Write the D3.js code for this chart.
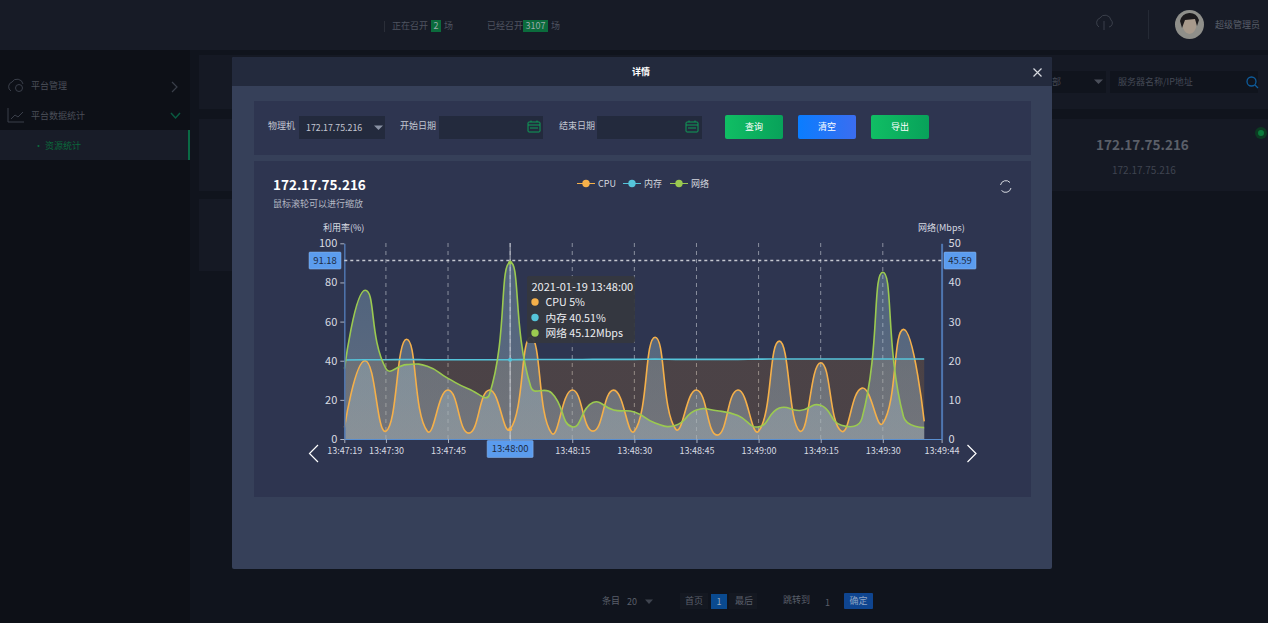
<!DOCTYPE html>
<html>
<head>
<meta charset="utf-8">
<title>详情</title>
<script src="https://cdn.jsdelivr.net/npm/d3@7/dist/d3.min.js"></script>
<style>
    * { box-sizing: border-box; }
    html, body { margin: 0; width: 1268px; height: 623px; overflow: hidden; background: #10141d; font-family: "Noto Sans CJK SC", "Noto Sans", sans-serif; }
    .box { position: absolute; }
    .t { position: absolute; white-space: nowrap; font-size: 9px; line-height: 12px; }
    #chart { position: absolute; left: 0; top: 0; }
    #chart text { font-family: "Noto Sans CJK SC", "Noto Sans", sans-serif; }
    .btn { position: absolute; top: 115px; width: 58px; height: 24px; border-radius: 2px; color: #fff; font-size: 9px; line-height: 24px; text-align: center; }
    .green { background: linear-gradient(90deg, #10be64, #08a25a); }
    .blue { background: linear-gradient(90deg, #0a7dff, #3b6df0); }
    .inp { position: absolute; top: 116px; height: 23px; background: #232a3d; }
</style>
</head>
<body>
<!-- dimmed page behind the dialog -->
<div class="box" style="left:0;top:0;width:1268px;height:50px;background:#171b26"></div>
<div class="box" style="left:0;top:50px;width:190px;height:573px;background:#0d1017"></div>
<div class="box" style="left:0;top:130px;width:190px;height:30px;background:#181c28"></div>
<div class="box" style="left:188px;top:130px;width:2px;height:30px;background:#0a6a45"></div>
<div class="box" style="left:199px;top:55px;width:1069px;height:54px;background:#151924"></div>
<div class="box" style="left:199px;top:119px;width:1069px;height:72px;background:#151924"></div>
<div class="box" style="left:199px;top:199px;width:260px;height:72px;background:#151924"></div>
<div class="box" style="left:1110px;top:71px;width:148px;height:22px;background:#10141d"></div>
<div class="box" style="left:1052px;top:71px;width:54px;height:22px;background:#10141d"></div>

<div class="t" style="left:392px;top:20px;color:#4f5460">正在召开</div>
<div class="box" style="left:431px;top:20px;width:10px;height:12px;background:#0b6b3c;color:#9aa;font-size:9px;line-height:12px;text-align:center">2</div>
<div class="t" style="left:444px;top:20px;color:#4f5460">场</div>
<div class="t" style="left:487px;top:20px;color:#4f5460">已经召开</div>
<div class="box" style="left:523px;top:20px;width:25px;height:12px;background:#0b6b3c;color:#9aa;font-size:9px;line-height:12px;text-align:center">3107</div>
<div class="t" style="left:551px;top:20px;color:#4f5460">场</div>
<div class="box" style="left:384px;top:21px;width:1px;height:11px;background:#2a2e38"></div>
<div class="box" style="left:1148px;top:10px;width:1px;height:29px;background:#252a35"></div>
<div class="t" style="left:1215px;top:19px;color:#5a5f6a">超级管理员</div>
<div class="t" style="left:31px;top:80px;color:#4a4e58">平台管理</div>
<div class="t" style="left:31px;top:110px;color:#4a4e58">平台数据统计</div>
<div class="t" style="left:34px;top:140px;color:#0a6a3c">• 资源统计</div>
<div class="t" style="left:1118px;top:76px;color:#444955">服务器名称/IP地址</div>
<div class="t" style="left:1052px;top:76px;color:#444955">部</div>
<div class="t" style="left:1096px;top:135px;color:#5b5f68;font-size:13.5px;line-height:18px;font-weight:700">172.17.75.216</div>
<div class="t" style="left:1112px;top:164px;color:#3f4450;font-size:10px">172.17.75.216</div>
<div class="t" style="left:602px;top:595px;color:#5a5f6a">条目</div>
<div class="t" style="left:627px;top:596px;color:#5a5f6a">20</div>
<div class="box" style="left:680px;top:593px;width:28px;height:16px;background:#141821"></div>
<div class="t" style="left:685px;top:595px;color:#5a5f6a">首页</div>
<div class="box" style="left:711px;top:594px;width:16px;height:15px;background:#0a4a8f;color:#9ab;font-size:9px;line-height:15px;text-align:center">1</div>
<div class="box" style="left:729px;top:593px;width:28px;height:16px;background:#141821"></div>
<div class="t" style="left:735px;top:595px;color:#5a5f6a">最后</div>
<div class="t" style="left:783px;top:594px;color:#5a5f6a">跳转到</div>
<div class="t" style="left:825px;top:597px;color:#5a5f6a">1</div>
<div class="box" style="left:844px;top:593px;width:29px;height:16px;background:#0f4590;color:#8ea4c4;font-size:9px;line-height:16px;text-align:center;border-radius:1px">确定</div>

<!-- dialog -->
<div class="box" style="left:232px;top:57px;width:820px;height:512px;background:#364059;border-radius:2px"></div>
<div class="box" style="left:232px;top:57px;width:820px;height:29px;background:#232a3d;border-radius:2px 2px 0 0"></div>
<div class="t" style="left:632px;top:66px;color:#fff;font-weight:700">详情</div>
<div class="box" style="left:254px;top:101px;width:777px;height:54px;background:#2e3550"></div>
<div class="box" style="left:254px;top:161px;width:777px;height:336px;background:#2e3550"></div>
<div class="t" style="left:268px;top:120px;color:#c3c7d2">物理机</div>
<div class="inp" style="left:299px;width:86px"></div>
<div class="t" style="left:306px;top:122px;color:#c3c7d2;font-size:8.8px">172.17.75.216</div>
<div class="t" style="left:400px;top:120px;color:#c3c7d2">开始日期</div>
<div class="inp" style="left:439px;width:104px"></div>
<div class="t" style="left:559px;top:120px;color:#c3c7d2">结束日期</div>
<div class="inp" style="left:597px;width:105px"></div>
<div class="btn green" style="left:725px">查询</div>
<div class="btn blue" style="left:798px">清空</div>
<div class="btn green" style="left:871px">导出</div>
<div class="t" style="left:273px;top:175px;color:#fff;font-size:13.5px;line-height:18px;font-weight:700">172.17.75.216</div>
<div class="t" style="left:273px;top:198px;color:#b5b9c4">鼠标滚轮可以进行缩放</div>

<svg id="chart" width="1268" height="623"></svg>

<script>
// times of the samples, one every 5 s
const sampleTimes = ["13:47:20", "13:47:25", "13:47:30", "13:47:35", "13:47:40", "13:47:45", "13:47:50", "13:47:55",
    "13:48:00", "13:48:05", "13:48:10", "13:48:15", "13:48:20", "13:48:25", "13:48:30", "13:48:35", "13:48:40",
    "13:48:45", "13:48:50", "13:48:55", "13:49:00", "13:49:05", "13:49:10", "13:49:15", "13:49:20", "13:49:25",
    "13:49:30", "13:49:35", "13:49:40"];
const cpuValues = [6, 40, 4, 51, 4, 25, 3, 25, 5, 52, 3, 25, 4, 25, 4, 52, 5, 25, 2, 25, 4, 50, 4, 39, 4, 26, 8, 56, 9];
const memValues = [40.4, 40.5, 40.5, 40.6, 40.5, 40.5, 40.5, 40.5, 40.51, 40.6, 40.6, 40.6, 40.7, 40.7, 40.7, 40.8, 40.7,
    40.7, 40.7, 40.7, 40.8, 40.9, 40.9, 40.9, 40.9, 40.9, 40.9, 40.9, 40.9];
const netValues = [18, 38, 18, 19, 18.6, 15.5, 12.8, 11.4, 45.12, 13.3, 11.8, 3.1, 9.3, 7.4, 6.9, 4.1, 3.5, 7.4, 7.2, 6,
    3.1, 7.9, 7.3, 8.6, 3.5, 5.4, 42.6, 5.7, 2.9];
const timeTicks = ["13:47:30", "13:47:45", "13:48:00", "13:48:15", "13:48:30", "13:48:45", "13:49:00", "13:49:15", "13:49:30"];
const leftTicks = [0, 20, 40, 60, 80, 100];
const rightTicks = [0, 10, 20, 30, 40, 50];
const legendNames = ["CPU", "内存", "网络"];
const tooltipRows = ["CPU 5%", "内存 40.51%", "网络 45.12Mbps"];
const hoverTime = "13:48:00";
const hoverLeft = 91.18;
const hoverRight = 45.59;

const colors = { cpu: "#f5b04a", mem: "#55c4da", net: "#9bca50" };
const parseT = s => new Date(`2021-01-19T${s}`);
const fmtTime = d3.timeFormat("%H:%M:%S");

const svg = d3.select("#chart");

// the first label reads 13:47:19 because the axis starts a hair before the first sample
const x = d3.scaleTime()
    .domain([new Date(parseT("13:47:20").getTime() - 50), new Date(parseT("13:49:44").getTime() + 200)])
    .range([344.3, 941.6]);
const yL = d3.scaleLinear().domain([0, 100]).range([439, 243.3]);
const yR = d3.scaleLinear().domain([0, 50]).range([439, 243.3]);

const defs = svg.append("defs");
function addGradient(id, top, bottom) {
    const g = defs.append("linearGradient").attr("id", id).attr("gradientUnits", "userSpaceOnUse")
        .attr("x1", 0).attr("x2", 0).attr("y1", 243).attr("y2", 439);
    g.append("stop").attr("offset", 0).attr("stop-color", top[0]).attr("stop-opacity", top[1]);
    g.append("stop").attr("offset", 1).attr("stop-color", bottom[0]).attr("stop-opacity", bottom[1]);
}
addGradient("gMem", ["#c07820", 0.2], ["#c07820", 0.2]);
addGradient("gCpu", ["#96c8e1", 0.3], ["#a8b8c0", 0.42]);
addGradient("gNet", ["#96c8e1", 0.3], ["#a8b8c0", 0.42]);

// same tangents as the original chart's smooth lines: handle length shared by segment length
function smoothCurve(context) {
    const s = 0.5;
    let pts = [];
    let inArea = false;
    let lineNo = 0;
    return {
        areaStart() { inArea = true; lineNo = 0; },
        areaEnd() { context.closePath(); inArea = false; },
        lineStart() { pts = []; },
        point(px, py) { pts.push([+px, +py]); },
        lineEnd() {
            const n = pts.length;
            const cp = pts.map((p, i) => {
                if (i === 0 || i === n - 1) return { v: [0, 0], next: 0.5 };
                const a = pts[i - 1], b = pts[i + 1];
                const l0 = Math.hypot(p[0] - a[0], p[1] - a[1]), l1 = Math.hypot(b[0] - p[0], b[1] - p[1]);
                return { v: [b[0] - a[0], b[1] - a[1]], next: l1 / (l0 + l1) };
            });
            if (inArea && lineNo > 0) context.lineTo(pts[0][0], pts[0][1]);
            else context.moveTo(pts[0][0], pts[0][1]);
            lineNo++;
            for (let i = 0; i < n - 1; i++) {
                const c0 = cp[i], c1 = cp[i + 1];
                context.bezierCurveTo(
                    pts[i][0] + c0.v[0] * s * c0.next, pts[i][1] + c0.v[1] * s * c0.next,
                    pts[i + 1][0] - c1.v[0] * s * (1 - c1.next), pts[i + 1][1] - c1.v[1] * s * (1 - c1.next),
                    pts[i + 1][0], pts[i + 1][1]);
            }
        }
    };
}

// vertical grid
svg.append("g").selectAll("line").data(timeTicks).join("line")
    .attr("x1", d => x(parseT(d))).attr("x2", d => x(parseT(d)))
    .attr("y1", 243).attr("y2", 439)
    .attr("stroke", "#c8ccd4").attr("stroke-opacity", 0.6).attr("stroke-dasharray", "4,4");

// areas and lines
function drawSeries(values, scale, fill, color) {
    const pts = sampleTimes.map((t, i) => [parseT(t), values[i]]);
    svg.append("path").datum(pts)
        .attr("fill", fill)
        .attr("d", d3.area().x(d => x(d[0])).y0(439).y1(d => scale(d[1])).curve(smoothCurve));
    return () => svg.append("path").datum(pts)
        .attr("fill", "none").attr("stroke", color).attr("stroke-width", 1.6)
        .attr("d", d3.line().x(d => x(d[0])).y(d => scale(d[1])).curve(smoothCurve));
}
const lineMem = drawSeries(memValues, yL, "url(#gMem)", colors.mem);
const lineCpu = drawSeries(cpuValues, yL, "url(#gCpu)", colors.cpu);
const lineNet = drawSeries(netValues, yR, "url(#gNet)", colors.net);
lineCpu();
lineMem();
lineNet();

// axes
function styleAxis(g, color) {
    g.selectAll(".domain").attr("stroke", color).attr("stroke-width", 1.5);
    g.selectAll(".tick line").attr("stroke", "#aab2c2");
    g.selectAll("text").attr("fill", "#d8dbe2").attr("font-size", 11);
}
const allTimeTicks = [x.domain()[0], ...timeTicks.map(parseT), x.domain()[1]];
const xAxis = svg.append("g").attr("transform", "translate(0,439)")
    .call(d3.axisBottom(x).tickValues(allTimeTicks).tickFormat(fmtTime).tickSize(4).tickPadding(5).tickSizeOuter(0));
styleAxis(xAxis, "#5a8fd0");
xAxis.selectAll("text").attr("font-size", 9);
xAxis.select(".domain").attr("stroke-width", 1);
// the pointer label below takes the place of this tick's text
xAxis.selectAll(".tick text").filter(d => fmtTime(d) === hoverTime).remove();

const leftAxis = svg.append("g").attr("transform", "translate(344.3,0)")
    .call(d3.axisLeft(yL).tickValues(leftTicks).tickSize(4).tickPadding(3).tickSizeOuter(0));
styleAxis(leftAxis, "#4f76b0");
const rightAxis = svg.append("g").attr("transform", "translate(941.6,0)")
    .call(d3.axisRight(yR).tickValues(rightTicks).tickSize(0).tickPadding(7).tickSizeOuter(0));
styleAxis(rightAxis, "#4f76b0");
rightAxis.select(".domain").attr("stroke-width", 2);

svg.append("text").attr("x", 323).attr("y", 231).attr("fill", "#d8dbe2").attr("font-size", 9).text("利用率(%)");
svg.append("text").attr("x", 918).attr("y", 231).attr("fill", "#d8dbe2").attr("font-size", 9).text("网络(Mbps)");

// axis pointer at the hovered sample
const hx = x(parseT(hoverTime));
svg.append("line").attr("x1", 344.3).attr("x2", 941.6).attr("y1", yL(hoverLeft)).attr("y2", yL(hoverLeft))
    .attr("stroke", "#dfe2e8").attr("stroke-opacity", 0.85).attr("stroke-dasharray", "3,3").attr("stroke-width", 1.5);
svg.append("line").attr("x1", hx).attr("x2", hx).attr("y1", 243).attr("y2", 439)
    .attr("stroke", "#dfe2e8").attr("stroke-opacity", 0.75).attr("stroke-width", 1);
[[cpuValues, colors.cpu, yL], [memValues, colors.mem, yL], [netValues, colors.net, yR]].forEach(([vals, c, s]) => {
    svg.append("circle").attr("cx", hx).attr("cy", s(vals[sampleTimes.indexOf(hoverTime)])).attr("r", 2).attr("fill", c);
});

function pointerLabel(cx, cy, w, h, text) {
    svg.append("rect").attr("x", cx - w / 2).attr("y", cy - h / 2).attr("width", w).attr("height", h).attr("rx", 1)
        .attr("fill", "#5b9cee").attr("stroke", "#8db8ee").attr("stroke-width", 0.5);
    svg.append("text").attr("x", cx).attr("y", cy + 3.3).attr("text-anchor", "middle")
        .attr("font-size", 9.5).attr("fill", "#1d2a3f").text(text);
}
pointerLabel(325, yL(hoverLeft), 32, 17, hoverLeft.toFixed(2));
pointerLabel(960, yL(hoverLeft), 32, 17, hoverRight.toFixed(2));
pointerLabel(hx, 449, 46, 17, hoverTime);

// legend
const legendX = [586, 632, 679];
[colors.cpu, colors.mem, colors.net].forEach((c, i) => {
    const g = svg.append("g").attr("transform", `translate(${legendX[i]},183.5)`);
    g.append("line").attr("x1", -9).attr("x2", 9).attr("stroke", c).attr("stroke-width", 1);
    g.append("circle").attr("r", 3.7).attr("fill", c);
    g.append("text").attr("x", 12).attr("y", 3).attr("font-size", 9).attr("fill", "#d4d7de").text(legendNames[i]);
});

// tooltip
svg.append("rect").attr("x", 527).attr("y", 276).attr("width", 108).attr("height", 67).attr("rx", 2)
    .attr("fill", "#35383f").attr("fill-opacity", 0.95);
svg.append("text").attr("x", 531.5).attr("y", 291).attr("font-size", 11).attr("fill", "#eceef2")
    .text(`2021-01-19 ${hoverTime}`);
[colors.cpu, colors.mem, colors.net].forEach((c, i) => {
    svg.append("circle").attr("cx", 535).attr("cy", 302 + i * 15.5).attr("r", 3.7).attr("fill", c);
    svg.append("text").attr("x", 545.5).attr("y", 306 + i * 15.5).attr("font-size", 10.7).attr("fill", "#eceef2").text(tooltipRows[i]);
});

// arrows, close, refresh and other small icons
const stroke = (d, c, w) => svg.append("path").attr("d", d).attr("fill", "none").attr("stroke", c).attr("stroke-width", w || 1);
stroke("M318,445 L309.5,453.5 L318,462", "#fff", 1.2);
stroke("M967.5,445 L976,453.5 L967.5,462", "#fff", 1.2);
stroke("M1033.5,68.5 L1041.5,76.5 M1041.5,68.5 L1033.5,76.5", "#d6d9e0", 1.2);
stroke("M1000.5,185 A5.5,5.5 0 0,1 1010,182.5 M1011,188 A5.5,5.5 0 0,1 1001.5,190.5", "#d6d9e0", 1);
svg.append("path").attr("d", "M374,125.5 L383,125.5 L378.5,130 Z").attr("fill", "#8a92a4");
[[528, 122], [686, 122]].forEach(([a, b]) => {
    svg.append("rect").attr("x", a).attr("y", b).attr("width", 12).attr("height", 10).attr("rx", 1)
        .attr("fill", "none").attr("stroke", "#0f9d58").attr("stroke-width", 1);
    stroke(`M${a},125 L${a + 12},125 M${a + 3},120.5 L${a + 3},122 M${a + 9},120.5 L${a + 9},122 M${a + 2},128 L${a + 10},128`, "#0f9d58", 1);
});
svg.append("path").attr("d", "M1094,79.5 L1103,79.5 L1098.5,84 Z").attr("fill", "#4a4f5a");
svg.append("path").attr("d", "M645,599.5 L653,599.5 L649,604 Z").attr("fill", "#3f444f");
stroke("M172,82 L177,87 L172,92", "#3a3f4a", 1.2);
stroke("M171,113 L175.5,118 L180,113", "#0a5a40", 1.5);
stroke("M8,108 L8,122 L24,122 M11,119 L15,115 L18,117 L23,112", "#3a3f4a", 1);
stroke("M11,91 A5,5 0 0,1 12,82 A6,6 0 0,1 23,84", "#3a3f4a", 1);
svg.append("circle").attr("cx", 19).attr("cy", 88).attr("r", 3.5).attr("fill", "none").attr("stroke", "#3a3f4a");
stroke("M1099,27 A5,5 0 0,1 1100,18 A6,6 0 0,1 1111,20 A4,4 0 0,1 1109,27 M1104,21 L1104,30", "#3a3f4a", 1);
svg.append("circle").attr("cx", 1189.5).attr("cy", 24.5).attr("r", 14.5).attr("fill", "#8f8f8a");
svg.append("ellipse").attr("cx", 1189.5).attr("cy", 24).attr("rx", 7).attr("ry", 10).attr("fill", "#a89a8c");
svg.append("path").attr("d", "M1180,21 A10,11 0 0,1 1199,20 L1197,26 L1195,19 L1185,20 L1182,28 Z").attr("fill", "#1c1a1c");
svg.append("circle").attr("cx", 1251.5).attr("cy", 81.5).attr("r", 4.5).attr("fill", "none").attr("stroke", "#0e5c9c").attr("stroke-width", 1.3);
stroke("M1255,85 L1258,88", "#0e5c9c", 1.3);
svg.append("circle").attr("cx", 1261).attr("cy", 133).attr("r", 6).attr("fill", "#0c3a22");
svg.append("circle").attr("cx", 1261).attr("cy", 133).attr("r", 3).attr("fill", "#0b7a3c");
</script>
</body>
</html>
